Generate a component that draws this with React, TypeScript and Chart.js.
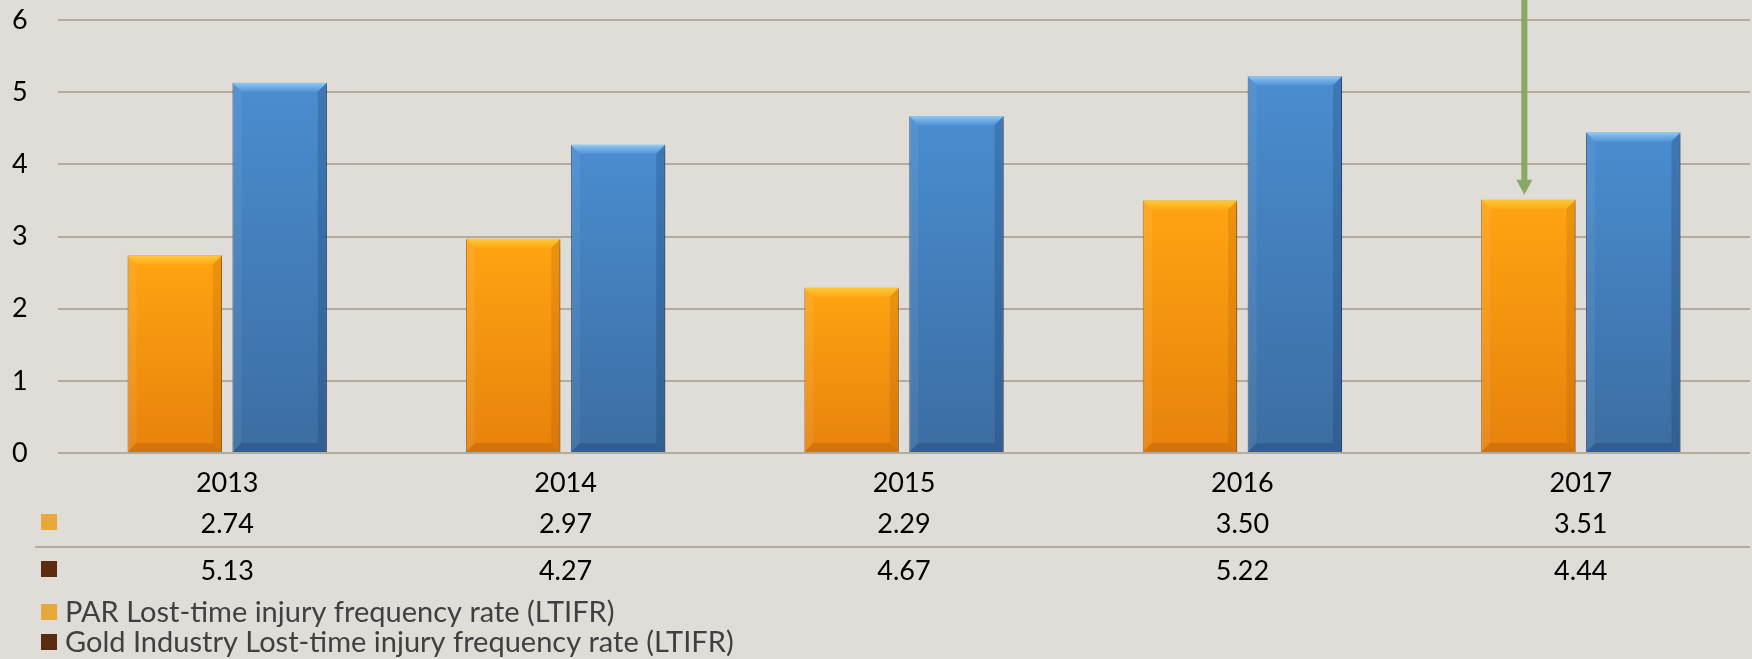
import React, { useEffect, useRef } from "react";
import { Chart, registerables } from "chart.js";

Chart.register(...registerables);

const categories = ["2013", "2014", "2015", "2016", "2017"];
const parLtifr = [2.74, 2.97, 2.29, 3.5, 3.51];
const goldLtifr = [5.13, 4.27, 4.67, 5.22, 4.44];
const yTicks = [0, 1, 2, 3, 4, 5, 6];
const seriesLabels = [
  "PAR Lost-time injury frequency rate (LTIFR)",
  "Gold Industry Lost-time injury frequency rate (LTIFR)",
];
const legendColors = ["#E9A93A", "#5A2C10"];

const FONT = "Lato, 'Open Sans', sans-serif";
const BG = "#E0DDD8";
const GRID = "#B3AB9E";

function makeGradient(top: string, bottom: string) {
  return (ctx: any) => {
    const chart = ctx.chart;
    const ys = chart.scales && chart.scales.y;
    if (!ys || ctx.raw == null) return top;
    const t = ys.getPixelForValue(ctx.raw);
    const b = ys.getPixelForValue(0);
    if (!isFinite(t) || !isFinite(b) || t === b) return top;
    const g = chart.ctx.createLinearGradient(0, t, 0, b);
    g.addColorStop(0, top);
    g.addColorStop(1, bottom);
    return g;
  };
}

const bevelColors = [
  { top0: "rgba(255,205,60,0.95)", top1: "rgba(255,190,40,0.35)", right: "rgba(150,70,0,0.18)", bottom: "rgba(140,60,0,0.22)", left: "rgba(255,255,255,0.07)" },
  { top0: "rgba(150,210,250,0.95)", top1: "rgba(110,170,230,0.35)", right: "rgba(10,40,80,0.20)", bottom: "rgba(10,40,80,0.22)", left: "rgba(255,255,255,0.06)" },
];

const customPlugin = {
  id: "custom",
  beforeDraw(chart: any) {
    const c = chart.ctx;
    c.save();
    c.fillStyle = BG;
    c.fillRect(0, 0, chart.width, chart.height);
    c.restore();
  },
  beforeDatasetsDraw(chart: any) {
    const c = chart.ctx;
    c.save();
    c.shadowColor = "rgba(0,0,0,0.30)";
    c.shadowBlur = 6;
    c.shadowOffsetX = 2;
    c.shadowOffsetY = 3;
  },
  afterDatasetsDraw(chart: any) {
    const c = chart.ctx;
    c.restore();
    const bv = 9;
    chart.data.datasets.forEach((ds: any, di: number) => {
      const meta = chart.getDatasetMeta(di);
      const col = bevelColors[di];
      meta.data.forEach((el: any) => {
        const p = el.getProps(["x", "y", "base", "width"], true);
        const l = p.x - p.width / 2;
        const r = p.x + p.width / 2;
        const t = p.y;
        const b = p.base;
        const poly = (pts: number[][], fill: any) => {
          c.beginPath();
          c.moveTo(pts[0][0], pts[0][1]);
          for (let i = 1; i < pts.length; i++) c.lineTo(pts[i][0], pts[i][1]);
          c.closePath();
          c.fillStyle = fill;
          c.fill();
        };
        c.save();
        const tg = c.createLinearGradient(0, t, 0, t + bv);
        tg.addColorStop(0, col.top0);
        tg.addColorStop(1, col.top1);
        poly([[l, t], [r, t], [r - bv, t + bv], [l + bv, t + bv]], tg);
        poly([[l, t], [l + bv, t + bv], [l + bv, b - bv], [l, b]], col.left);
        poly([[r, t], [r - bv, t + bv], [r - bv, b - bv], [r, b]], col.right);
        poly([[l, b], [l + bv, b - bv], [r - bv, b - bv], [r, b]], col.bottom);
        c.restore();
      });
    });
  },
  afterDraw(chart: any) {
    const c = chart.ctx;
    const xs = chart.scales.x;
    const area = chart.chartArea;
    c.save();
    // data table
    const rowY = [524, 571];
    const sepY = 547;
    c.strokeStyle = GRID;
    c.lineWidth = 2;
    c.beginPath();
    c.moveTo(35, sepY);
    c.lineTo(area.right, sepY);
    c.stroke();
    const rows = [parLtifr, goldLtifr];
    c.font = `27px ${FONT}`;
    c.fillStyle = "#000";
    c.textAlign = "center";
    c.textBaseline = "middle";
    rows.forEach((vals, ri) => {
      vals.forEach((v, i) => {
        c.fillText(v.toFixed(2), xs.getPixelForValue(i), rowY[ri]);
      });
      c.fillStyle = legendColors[ri];
      c.fillRect(41, rowY[ri] - 10, 16, 16);
      c.fillStyle = "#000";
    });
    // legend
    const legY = [612, 642];
    c.font = `29px ${FONT}`;
    c.textAlign = "left";
    seriesLabels.forEach((lab, i) => {
      c.fillStyle = legendColors[i];
      c.fillRect(41, legY[i] - 8, 16, 16);
      c.fillStyle = "#404040";
      c.fillText(lab, 65, legY[i] + 1);
    });
    // arrow annotation
    const meta = chart.getDatasetMeta(0);
    const el = meta.data[4];
    if (el) {
      const p = el.getProps(["x", "y"], true);
      const ax = p.x - 4;
      const tipY = p.y - 5;
      c.strokeStyle = "#8AA763";
      c.fillStyle = "#8AA763";
      c.lineWidth = 6;
      c.beginPath();
      c.moveTo(ax, 0);
      c.lineTo(ax, tipY - 14);
      c.stroke();
      c.beginPath();
      c.moveTo(ax - 8, tipY - 15);
      c.lineTo(ax + 8, tipY - 15);
      c.lineTo(ax, tipY);
      c.closePath();
      c.fill();
    }
    c.restore();
  },
};

export default function App() {
  const ref = useRef<HTMLCanvasElement | null>(null);
  useEffect(() => {
    document.body.style.margin = "0";
    document.body.style.overflow = "hidden";
    if (!ref.current) return;
    const chart = new Chart(ref.current, {
      type: "bar",
      data: {
        labels: categories,
        datasets: [
          {
            label: seriesLabels[0],
            data: parLtifr,
            backgroundColor: makeGradient("#FFA412", "#E7820C"),
            borderColor: "#B8720E",
            borderWidth: 1,
            categoryPercentage: 0.62,
            barPercentage: 0.9,
            clip: false as any,
          },
          {
            label: seriesLabels[1],
            data: goldLtifr,
            backgroundColor: makeGradient("#4A8DD0", "#3C6DA2"),
            borderColor: "#2F5B88",
            borderWidth: 1,
            categoryPercentage: 0.62,
            barPercentage: 0.9,
            clip: false as any,
          },
        ],
      },
      options: {
        responsive: false,
        animation: false,
        layout: { padding: { top: 20, right: 2, left: 12, bottom: 0 } },
        scales: {
          x: {
            grid: { display: false },
            border: { display: false },
            ticks: { font: { family: FONT, size: 27 }, color: "#000", padding: 6 },
            afterFit: (s: any) => {
              s.height = 206;
            },
          },
          y: {
            min: 0,
            max: 6,
            afterBuildTicks: (s: any) => {
              s.ticks = yTicks.map((v) => ({ value: v }));
            },
            ticks: { font: { family: FONT, size: 27 }, color: "#000", padding: 0, crossAlign: "far" },
            grid: { color: GRID, lineWidth: 2, drawTicks: false },
            border: { display: false },
            afterFit: (s: any) => {
              s.width = 46;
            },
          },
        },
        plugins: {
          legend: { display: false },
          tooltip: { enabled: false },
        },
      },
      plugins: [customPlugin],
    });
    return () => chart.destroy();
  }, []);
  return (
    <div style={{ width: 1752, height: 659 }}>
      <canvas ref={ref} width={1752} height={659} style={{ display: "block" }} />
    </div>
  );
}
